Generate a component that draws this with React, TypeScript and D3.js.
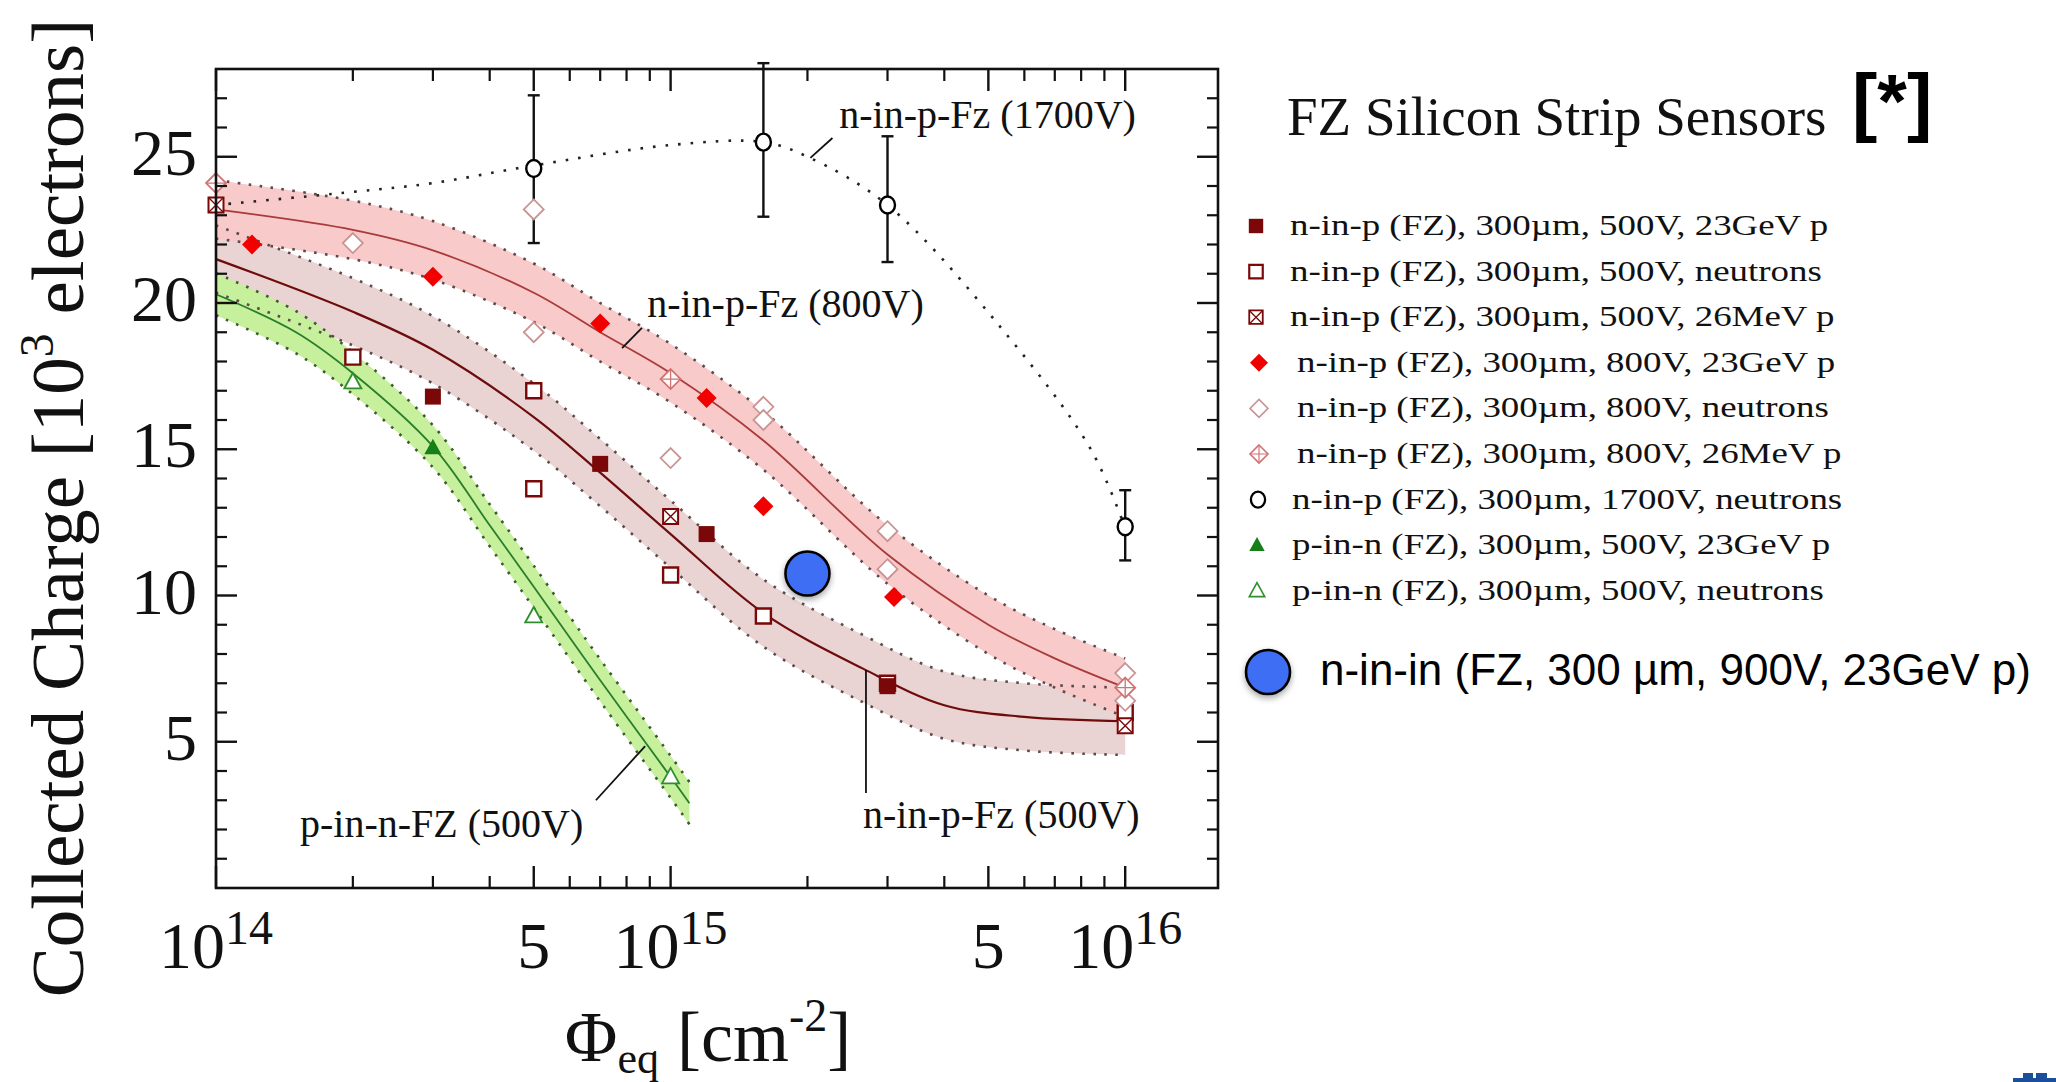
import React from "react";
import * as d3 from "d3";

const W = 2056;
const H = 1082;
const FRAME = { left: 216, right: 1218, top: 69, bottom: 888 };

// ---------- data (fluence in cm^-2, charge in 10^3 electrons) ----------
const sq500Fluence = [3e14, 7e14, 1.2e15, 3e15];
const sq500Charge = [16.8, 14.5, 12.1, 6.9];

const openSq500Fluence = [2e14, 5e14, 5e14, 1e15, 1.6e15, 3e15, 1e16];
const openSq500Charge = [18.15, 17.0, 13.65, 10.7, 9.3, 7.0, 6.0];

const xSq500Fluence = [1e14, 1e15, 1e16];
const xSq500Charge = [23.35, 12.7, 5.55];

const dia800Fluence = [1.2e14, 3e14, 7e14, 1.2e15, 1.6e15, 3.1e15];
const dia800Charge = [22.0, 20.9, 19.3, 16.75, 13.05, 9.95];

const openDia800Fluence = [2e14, 5e14, 5e14, 1e15, 1.6e15, 1.6e15, 3e15, 3e15, 1e16, 1e16];
const openDia800Charge = [22.05, 23.2, 19.0, 14.7, 16.45, 16.0, 12.2, 10.9, 7.35, 6.4];

const xDia800Fluence = [1e14, 1e15, 1e16];
const xDia800Charge = [24.1, 17.4, 6.85];

const circ1700Fluence = [5e14, 1.6e15, 3e15, 1e16];
const circ1700Charge = [24.6, 25.5, 23.35, 12.35];
const circ1700Low = [22.05, 22.95, 21.4, 11.2];
const circ1700High = [27.1, 28.2, 25.7, 13.6];

const triFilledFluence = [3e14];
const triFilledCharge = [15.05];

const triOpenFluence = [2e14, 5e14, 1e15];
const triOpenCharge = [17.3, 9.3, 3.8];

const ninFluence = [2e15];
const ninCharge = [10.75];

// fitted curves
const red800Fluence = [1e14, 2e14, 3e14, 5e14, 7e14, 1e15, 1.6e15, 3e15, 5e15, 7e15, 1e16];
const red800Charge = [23.2, 22.5, 21.8, 20.35, 19.0, 17.6, 15.3, 11.4, 9.0, 7.85, 6.85];
const red800Half = 1.0;

const brown500Fluence = [1e14, 2e14, 3e14, 5e14, 7e14, 1e15, 1.6e15, 2.65e15, 4e15, 6e15, 1e16];
const brown500Charge = [21.5, 19.7, 18.4, 16.1, 14.2, 12.1, 9.4, 7.5, 6.25, 5.85, 5.7];
const brown500Half = 1.15;

const green500Fluence = [1e14, 1.5e14, 2e14, 3e14, 4e14, 5e14, 7e14, 1e15, 1.1e15];
const green500Charge = [20.3, 19.0, 17.6, 15.1, 12.4, 10.3, 7.1, 3.8, 2.9];
const green500Half = 0.72;

const dot1700Fluence = [1e14, 2e14, 3e14, 5e14, 1e15, 1.6e15, 2e15, 3e15, 5.3e15, 8.4e15, 1e16];
const dot1700Charge = [23.35, 23.8, 24.1, 24.7, 25.4, 25.5, 25.0, 23.35, 19.2, 15.0, 12.3];

// axes
const xMajorTicks = [1e14, 5e14, 1e15, 5e15, 1e16];
const xMinorTicks = [2e14, 3e14, 4e14, 6e14, 7e14, 8e14, 9e14, 2e15, 3e15, 4e15, 6e15, 7e15, 8e15, 9e15];
const xLabelValues = [1e14, 5e14, 1e15, 5e15, 1e16];
const xLabelBase = ["10", "5", "10", "5", "10"];
const xLabelExp = ["14", "", "15", "", "16"];
const yMajorTicks = [5, 10, 15, 20, 25];
const yMinorTicks = d3.range(1, 28).filter((v) => v % 5 !== 0);

// annotations
const annoText = ["n-in-p-Fz (1700V)", "n-in-p-Fz (800V)", "n-in-p-Fz (500V)", "p-in-n-FZ (500V)"];
const annoTextFluence = [2.35e15, 8.88e14, 2.65e15, 1.53e14];
const annoTextCharge = [25.98, 19.52, 2.05, 1.74];
const annoLineFromF = [2.03e15, 7.82e14, 2.69e15, 8.79e14];
const annoLineFromC = [24.96, 18.46, 7.45, 4.85];
const annoLineToF = [2.27e15, 8.65e14, 2.69e15, 6.85e14];
const annoLineToC = [25.64, 19.15, 3.25, 3.0];

const legendTitle = "FZ Silicon Strip Sensors";
const legendLabels = [
  "n-in-p (FZ), 300\u00b5m, 500V, 23GeV p",
  "n-in-p (FZ), 300\u00b5m, 500V, neutrons",
  "n-in-p (FZ), 300\u00b5m, 500V, 26MeV p",
  "n-in-p (FZ), 300\u00b5m, 800V, 23GeV p",
  "n-in-p (FZ), 300\u00b5m, 800V, neutrons",
  "n-in-p (FZ), 300\u00b5m, 800V, 26MeV p",
  "n-in-p (FZ), 300\u00b5m, 1700V, neutrons",
  "p-in-n (FZ), 300\u00b5m, 500V, 23GeV p",
  "p-in-n (FZ), 300\u00b5m, 500V, neutrons",
];
const legendKinds = ["sq", "osq", "xsq", "dia", "odia", "xdia", "circ", "tri", "otri"];
const ninLabel = "n-in-in (FZ, 300 \u00b5m, 900V, 23GeV p)";

// ---------- styles ----------
const SERIF = "'Liberation Serif', 'Times New Roman', Times, serif";
const SANS = "'Liberation Sans', Arial, Helvetica, sans-serif";
const C = {
  darkRed: "#7a0808",
  red: "#f20000",
  openDia: "#c99494",
  xDia: "#d27272",
  green: "#177f17",
  greenOpen: "#2f8f2f",
  redFill: "#f9c6c6",
  brownFill: "#e9d3d3",
  greenFill: "#c6f09c",
  redLine: "#a83a3a",
  brownLine: "#6e0c0c",
  greenLine: "#2a7d2a",
  edge: "#5c4a4a",
  blue: "#3d6ef4",
};

const sqPath = (s: number) => `M${-s},${-s}h${2 * s}v${2 * s}h${-2 * s}Z`;
const diaPath = (s: number) => `M0,${-s}L${s},0L0,${s}L${-s},0Z`;
const triPath = (s: number) => `M0,${-s}L${s * 0.95},${s * 0.72}L${-s * 0.95},${s * 0.72}Z`;

function Marker({ kind, cx, cy, scale = 1 }: { kind: string; cx: number; cy: number; scale?: number }) {
  const t = `translate(${cx},${cy}) scale(${scale})`;
  switch (kind) {
    case "sq":
      return <path transform={t} d={sqPath(8)} fill={C.darkRed} />;
    case "osq":
      return <path transform={t} d={sqPath(7.5)} fill="#fff" stroke={C.darkRed} strokeWidth={2.4} />;
    case "xsq":
      return (
        <g transform={t} stroke={C.darkRed} strokeWidth={2}>
          <path d={sqPath(7.5)} fill="#fff" />
          <path d="M-7.5,-7.5L7.5,7.5M7.5,-7.5L-7.5,7.5" fill="none" strokeWidth={1.4} />
        </g>
      );
    case "dia":
      return <path transform={t} d={diaPath(10)} fill={C.red} />;
    case "odia":
      return <path transform={t} d={diaPath(10)} fill="#fff" stroke={C.openDia} strokeWidth={1.8} />;
    case "xdia":
      return (
        <g transform={t} stroke={C.xDia} strokeWidth={1.8}>
          <path d={diaPath(10)} fill="#fff" />
          <path d="M0,-10V10M-10,0H10" fill="none" strokeWidth={1.3} />
        </g>
      );
    case "circ":
      return <ellipse transform={t} rx={7.5} ry={8.5} fill="#fff" stroke="#000" strokeWidth={2.4} />;
    case "tri":
      return <path transform={t} d={triPath(9)} fill={C.green} />;
    case "otri":
      return <path transform={t} d={triPath(9)} fill="#fff" stroke={C.greenOpen} strokeWidth={1.8} />;
    default:
      return null;
  }
}

export default function App() {
  const x = d3.scaleLog().domain([1e14, 1.6e16]).range([FRAME.left, FRAME.right]);
  const y = d3.scaleLinear().domain([0, 28]).range([FRAME.bottom, FRAME.top]);
  const curve = d3.curveCatmullRom.alpha(0.5);

  const band = (fs: number[], cs: number[], h: number) =>
    d3
      .area<number>()
      .x((_, i) => x(fs[i]))
      .y0((_, i) => y(cs[i] - h))
      .y1((_, i) => y(cs[i] + h))
      .curve(curve)(cs) as string;
  const line = (fs: number[], cs: number[], off = 0) =>
    d3
      .line<number>()
      .x((_, i) => x(fs[i]))
      .y((_, i) => y(cs[i] + off))
      .curve(curve)(cs) as string;

  const edgeProps = { fill: "none", stroke: C.edge, strokeWidth: 2.6, strokeDasharray: "2.6 8.4" };

  const pts = (fs: number[], cs: number[], kind: string) =>
    fs.map((f, i) => <Marker key={kind + i} kind={kind} cx={x(f)} cy={y(cs[i])} />);

  const legendTop = 235;
  const legendStep = 45.6;
  const legendTextX = [1290, 1290, 1290, 1297, 1297, 1297, 1292, 1292, 1292];
  const legendMarkX = [1256, 1256, 1256, 1259, 1259, 1259, 1258, 1257, 1257];

  return (
    <svg
      width={W}
      height={H}
      viewBox={`0 0 ${W} ${H}`}
      style={{ position: "absolute", left: 0, top: 0, background: "#fff" }}
    >
      <defs>
        <filter id="shadow" x="-50%" y="-50%" width="200%" height="200%">
          <feDropShadow dx="0" dy="3" stdDeviation="3" floodColor="#000" floodOpacity="0.35" />
        </filter>
      </defs>
      <rect x={0} y={0} width={W} height={H} fill="#fff" />

      {/* bands */}
      <path d={band(brown500Fluence, brown500Charge, brown500Half)} fill={C.brownFill} />
      <path d={band(red800Fluence, red800Charge, red800Half)} fill={C.redFill} fillOpacity={0.92} />
      <path d={band(green500Fluence, green500Charge, green500Half)} fill={C.greenFill} />

      {/* band edges */}
      <path d={line(brown500Fluence, brown500Charge, brown500Half)} {...edgeProps} />
      <path d={line(brown500Fluence, brown500Charge, -brown500Half)} {...edgeProps} />
      <path d={line(red800Fluence, red800Charge, red800Half)} {...edgeProps} />
      <path d={line(red800Fluence, red800Charge, -red800Half)} {...edgeProps} />
      <path d={line(green500Fluence, green500Charge, green500Half)} {...edgeProps} stroke="#3d5a2d" />
      <path d={line(green500Fluence, green500Charge, -green500Half)} {...edgeProps} stroke="#3d5a2d" />

      {/* center lines */}
      <path d={line(brown500Fluence, brown500Charge)} fill="none" stroke={C.brownLine} strokeWidth={2.2} />
      <path d={line(red800Fluence, red800Charge)} fill="none" stroke={C.redLine} strokeWidth={1.8} />
      <path d={line(green500Fluence, green500Charge)} fill="none" stroke={C.greenLine} strokeWidth={1.8} />

      {/* 1700 V dotted curve */}
      <path
        d={line(dot1700Fluence, dot1700Charge)}
        fill="none"
        stroke="#222"
        strokeWidth={2.6}
        strokeDasharray="2.6 10"
      />

      {/* annotations */}
      {annoText.map((t, i) => (
        <g key={"an" + i}>
          <line
            x1={x(annoLineFromF[i])}
            y1={y(annoLineFromC[i])}
            x2={x(annoLineToF[i])}
            y2={y(annoLineToC[i])}
            stroke="#111"
            strokeWidth={1.8}
          />
          <text
            x={x(annoTextFluence[i])}
            y={y(annoTextCharge[i])}
            fontFamily={SERIF}
            fontSize={40}
            fill="#111"
          >
            {t}
          </text>
        </g>
      ))}

      {/* error bars */}
      {circ1700Fluence.map((f, i) => (
        <g key={"eb" + i} stroke="#111" strokeWidth={2.4}>
          <line x1={x(f)} x2={x(f)} y1={y(circ1700Low[i])} y2={y(circ1700High[i])} />
          <line x1={x(f) - 6} x2={x(f) + 6} y1={y(circ1700Low[i])} y2={y(circ1700Low[i])} />
          <line x1={x(f) - 6} x2={x(f) + 6} y1={y(circ1700High[i])} y2={y(circ1700High[i])} />
        </g>
      ))}

      {/* markers */}
      {pts(openSq500Fluence, openSq500Charge, "osq")}
      {pts(sq500Fluence, sq500Charge, "sq")}
      {pts(xSq500Fluence, xSq500Charge, "xsq")}
      {pts(openDia800Fluence, openDia800Charge, "odia")}
      {pts(xDia800Fluence, xDia800Charge, "xdia")}
      {pts(dia800Fluence, dia800Charge, "dia")}
      {pts(triOpenFluence, triOpenCharge, "otri")}
      {pts(triFilledFluence, triFilledCharge, "tri")}
      {pts(circ1700Fluence, circ1700Charge, "circ")}

      {ninFluence.map((f, i) => (
        <circle
          key={"nin" + i}
          cx={x(f)}
          cy={y(ninCharge[i])}
          r={22}
          fill={C.blue}
          stroke="#000"
          strokeWidth={2.6}
          filter="url(#shadow)"
        />
      ))}

      {/* frame */}
      <rect
        x={FRAME.left}
        y={FRAME.top}
        width={FRAME.right - FRAME.left}
        height={FRAME.bottom - FRAME.top}
        fill="none"
        stroke="#111"
        strokeWidth={2.6}
      />

      {/* x ticks (bottom and top, inward) */}
      {xMajorTicks.map((v) => (
        <g key={"xM" + v} stroke="#111" strokeWidth={2.4}>
          <line x1={x(v)} x2={x(v)} y1={FRAME.bottom} y2={FRAME.bottom - 22} />
          <line x1={x(v)} x2={x(v)} y1={FRAME.top} y2={FRAME.top + 22} />
        </g>
      ))}
      {xMinorTicks.map((v) => (
        <g key={"xm" + v} stroke="#111" strokeWidth={2.2}>
          <line x1={x(v)} x2={x(v)} y1={FRAME.bottom} y2={FRAME.bottom - 12} />
          <line x1={x(v)} x2={x(v)} y1={FRAME.top} y2={FRAME.top + 12} />
        </g>
      ))}
      {/* y ticks (left and right, inward) */}
      {yMajorTicks.map((v) => (
        <g key={"yM" + v} stroke="#111" strokeWidth={2.4}>
          <line x1={FRAME.left} x2={FRAME.left + 21} y1={y(v)} y2={y(v)} />
          <line x1={FRAME.right} x2={FRAME.right - 21} y1={y(v)} y2={y(v)} />
        </g>
      ))}
      {yMinorTicks.map((v) => (
        <g key={"ym" + v} stroke="#111" strokeWidth={2.2}>
          <line x1={FRAME.left} x2={FRAME.left + 11} y1={y(v)} y2={y(v)} />
          <line x1={FRAME.right} x2={FRAME.right - 11} y1={y(v)} y2={y(v)} />
        </g>
      ))}

      {/* tick labels */}
      {yMajorTicks.map((v) => (
        <text
          key={"yl" + v}
          x={197}
          y={y(v) + 18}
          textAnchor="end"
          fontFamily={SERIF}
          fontSize={66}
          fill="#111"
        >
          {v}
        </text>
      ))}
      {xLabelValues.map((v, i) => (
        <text
          key={"xl" + i}
          x={x(v)}
          y={968}
          textAnchor="middle"
          fontFamily={SERIF}
          fontSize={66}
          fill="#111"
        >
          {xLabelBase[i]}
          {xLabelExp[i] ? (
            <tspan fontSize={48} dy={-24}>
              {xLabelExp[i]}
            </tspan>
          ) : null}
        </text>
      ))}

      {/* axis titles */}
      <text
        transform={`translate(83,508) rotate(-90)`}
        textAnchor="middle"
        fontFamily={SERIF}
        fontSize={75}
        fill="#111"
      >
        Collected Charge [10
        <tspan fontSize={48} dy={-30}>
          3
        </tspan>
        <tspan dy={30}> electrons]</tspan>
      </text>
      <text x={708} y={1061} textAnchor="middle" fontFamily={SERIF} fontSize={72} fill="#111">
        {"\u03a6"}
        <tspan fontSize={44} dy={12}>
          eq
        </tspan>
        <tspan dy={-12}> [cm</tspan>
        <tspan fontSize={46} dy={-30}>
          -2
        </tspan>
        <tspan dy={30}>]</tspan>
      </text>

      {/* legend */}
      <text x={1287} y={135} fontFamily={SERIF} fontSize={55} fill="#111">
        {legendTitle}
      </text>
      <text x={1852} y={127} fontFamily={SANS} fontWeight="bold" fontSize={76} fill="#000">
        [*]
      </text>
      {legendLabels.map((lab, i) => {
        const by = legendTop + i * legendStep;
        return (
          <g key={"lg" + i}>
            <Marker kind={legendKinds[i]} cx={legendMarkX[i]} cy={by - 9} scale={i === 6 ? 0.95 : 0.9} />
            <text
              transform={`translate(${legendTextX[i]},${by}) scale(1.23,1)`}
              fontFamily={SERIF}
              fontSize={30}
              fill="#111"
            >
              {lab}
            </text>
          </g>
        );
      })}
      <circle cx={1268} cy={672} r={22} fill={C.blue} stroke="#000" strokeWidth={2.6} filter="url(#shadow)" />
      <text x={1320} y={685} fontFamily={SANS} fontSize={44} fill="#000">
        {ninLabel}
      </text>

      {/* corner logo fragment */}
      <g fill="#1b4f9c">
        <rect x={2013} y={1078} width={43} height={4} />
        <rect x={2023} y={1073} width={10} height={6} />
        <rect x={2036} y={1073} width={11} height={6} />
      </g>
    </svg>
  );
}
